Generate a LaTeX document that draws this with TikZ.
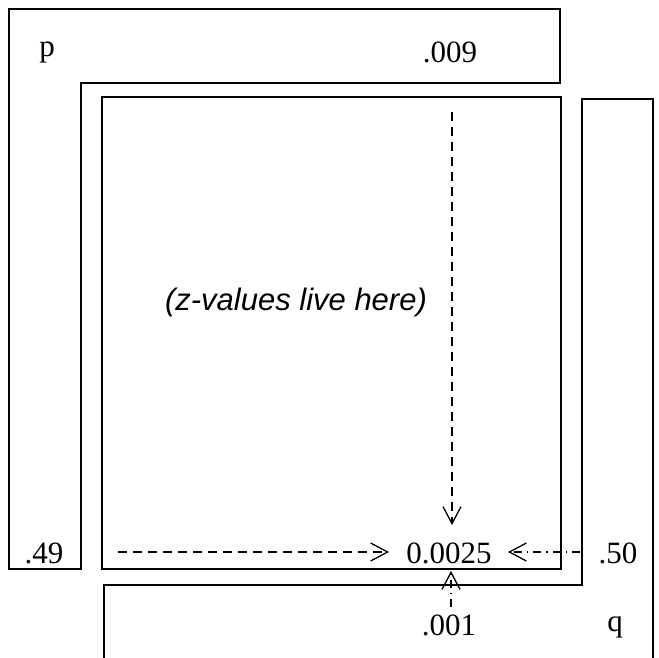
\documentclass[tikz,border=0pt]{standalone}
\usepackage{fontspec}
\setmainfont{Liberation Serif}
\setsansfont{Liberation Sans}
\usetikzlibrary{arrows.meta}
\tikzset{
  region/.style={draw=black, line width=2pt, line join=miter},
  lbl/.style={inner sep=0pt, anchor=base, font=\fontsize{31}{36}\selectfont},
  note/.style={inner sep=0pt, font=\sffamily\itshape\fontsize{31}{36}\selectfont},
  flow/.style={line width=1.3pt, -{Straight Barb[length=17pt, width=18pt, line width=1.3pt]}},
  dashflow/.style={flow, dash pattern=on 9pt off 6pt},
  dotflow/.style={flow, dash pattern=on 8pt off 5pt on 1.5pt off 5pt}
}
\begin{document}
\begin{tikzpicture}[x=1pt, y=-1pt]
\useasboundingbox (0,0) rectangle (659,658);
\clip (0,0) rectangle (659,658);
% regions
\draw[region] (9,9) -- (560,9) -- (560,83) -- (81,83) -- (81,569) -- (9,569) -- cycle;
\draw[region] (102,97) rectangle (561,569);
\draw[region] (104,670) -- (104,585) -- (582,585) -- (582,99) -- (653,99) -- (653,670);
% labels
\node[lbl] (p) at (47,57) {p};
\node[lbl] (v009) at (450,63) {.009};
\node[note] (zv) at (296,302) {(z-values live here)};
\node[lbl] (v49) at (44,563) {.49};
\node[lbl] (z) at (449,563) {0.0025};
\node[lbl] (v50) at (618,563) {.50};
\node[lbl] (v001) at (449,635) {.001};
\node[lbl] (q) at (615,631) {q};
% arrow ends
\coordinate (topstart) at (452,112);
\coordinate (toptip) at (452,525);
\coordinate (leftstart) at (118,552);
\coordinate (lefttip) at (389,552);
\coordinate (rightstart) at (580,552);
\coordinate (righttip) at (508,552);
\coordinate (botstart) at (451,607);
\coordinate (bottip) at (451,571);
% connectors
\draw[dashflow] (topstart) -- (toptip);
\draw[dashflow] (leftstart) -- (lefttip);
\draw[dotflow] (rightstart) -- (righttip);
\draw[dotflow] (botstart) -- (bottip);
\end{tikzpicture}
\end{document}
